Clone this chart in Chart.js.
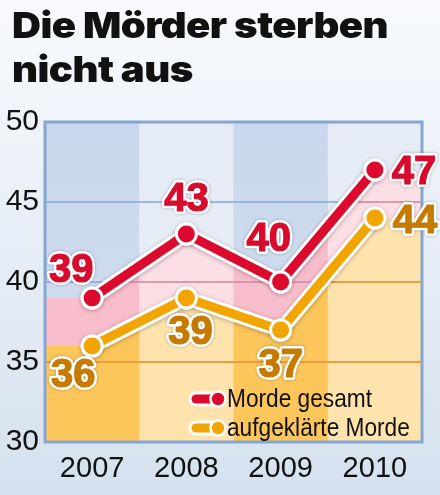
<!DOCTYPE html>
<html><head><meta charset="utf-8">
<script src="https://cdn.jsdelivr.net/npm/chart.js@4.4.0/dist/chart.umd.min.js"></script>
<style>
html,body{margin:0;padding:0;}
body{width:440px;height:495px;overflow:hidden;position:relative;
  background:linear-gradient(#f8fafd 0%, #eaf0f8 40%, #d5e1ef 100%);}
#c{position:absolute;left:0;top:0;}
.tl{position:absolute;left:12px;margin:0;font-family:Inter,'Liberation Sans',Arial,sans-serif;font-weight:900;
  font-size:36px;line-height:36px;color:#111;white-space:nowrap;transform-origin:0 0;letter-spacing:-0.5px;}
</style></head><body>
<canvas id="c" width="440" height="495"></canvas>
<div class="tl" id="t1" style="top:7px">Die Mörder sterben</div>
<div class="tl" id="t2" style="top:51px">nicht aus</div>
<script>
// ---- data ----
const categories = ['2007', '2008', '2009', '2010'];
const mordeGesamt = [39, 43, 40, 47];
const aufgeklaerteMorde = [36, 39, 37, 44];
const yTickValues = [30, 35, 40, 45, 50];
const seriesNames = ['Morde gesamt', 'aufgeklärte Morde'];

// title width fit
(function(){
  const t1 = document.getElementById('t1'), t2 = document.getElementById('t2');
  const w = t1.getBoundingClientRect().width;
  const s = 376 / w;
  t1.style.transform = 'scaleX(' + s + ')';
  t2.style.transform = 'scaleX(' + s + ')';
})();

const SANS = "'Liberation Sans',Arial,sans-serif";
const RED = '#dc0b2e', ORANGE = '#f2a400';
const LABEL_COLORS = ['#d80b2c', '#c57a00'];
const FILLS = ['#f8bdcb', '#fdc65b'];
const GRID_COLORS = ['#f08ea4', '#e8a11c'];

const decor = {
  id: 'decor',
  beforeDatasetsDraw(chart) {
    const ctx = chart.ctx, a = chart.chartArea, xs = chart.scales.x, ys = chart.scales.y;
    const step = xs.getPixelForValue(1) - xs.getPixelForValue(0);
    ctx.save();
    const g = ctx.createLinearGradient(0, a.top, 0, a.bottom);
    g.addColorStop(0, '#c8d7eb'); g.addColorStop(1, '#d3dff0');
    ctx.fillStyle = g;
    ctx.fillRect(a.left, a.top, a.right - a.left, a.bottom - a.top);
    const polys = [0, 1].map(i => {
      const pts = chart.getDatasetMeta(i).data;
      const p = new Path2D();
      p.moveTo(a.left, pts[0].y);
      pts.forEach(pt => p.lineTo(pt.x, pt.y));
      p.lineTo(a.right, pts[pts.length - 1].y);
      p.lineTo(a.right, a.bottom);
      p.lineTo(a.left, a.bottom);
      p.closePath();
      return p;
    });
    polys.forEach((p, i) => { ctx.fillStyle = FILLS[i]; ctx.fill(p); });
    ctx.fillStyle = 'rgba(255,255,255,0.5)';
    categories.forEach((c, i) => {
      if (i % 2 === 1) {
        const cx = xs.getPixelForValue(i);
        ctx.fillRect(cx - step / 2, a.top, step, a.bottom - a.top);
      }
    });
    const gl = ys.ticks.filter(t => t.value > ys.min && t.value < ys.max).map(t => ys.getPixelForValue(t.value));
    const drawGrid = (col) => {
      ctx.strokeStyle = col; ctx.lineWidth = 1.4;
      gl.forEach(yy => { ctx.beginPath(); ctx.moveTo(a.left, yy); ctx.lineTo(a.right, yy); ctx.stroke(); });
    };
    drawGrid('#86a7d1');
    polys.forEach((p, i) => { ctx.save(); ctx.clip(p); drawGrid(GRID_COLORS[i]); ctx.restore(); });
    ctx.strokeStyle = '#84a6d0'; ctx.lineWidth = 3;
    ctx.strokeRect(a.left, a.top, a.right - a.left, a.bottom - a.top);
    ctx.restore();
  },
  beforeDatasetDraw(chart, args) {
    const ctx = chart.ctx, pts = args.meta.data;
    ctx.save();
    ctx.shadowColor = 'rgba(0,0,0,0.28)'; ctx.shadowBlur = 4; ctx.shadowOffsetY = 1;
    ctx.strokeStyle = '#fff'; ctx.lineWidth = 15; ctx.lineJoin = 'round'; ctx.lineCap = 'round';
    ctx.beginPath();
    pts.forEach((p, i) => i ? ctx.lineTo(p.x, p.y) : ctx.moveTo(p.x, p.y));
    ctx.stroke();
    pts.forEach(p => { ctx.beginPath(); ctx.arc(p.x, p.y, 11.5, 0, Math.PI * 2); ctx.fillStyle = '#fff'; ctx.fill(); });
    ctx.restore();
  },
  afterDatasetsDraw(chart, args, opts) {
    const ctx = chart.ctx, a = chart.chartArea;
    ctx.save();
    ctx.font = "bold 40px " + SANS;
    ctx.textAlign = 'center'; ctx.textBaseline = 'middle'; ctx.lineJoin = 'round';
    chart.data.datasets.forEach((ds, i) => {
      const pts = chart.getDatasetMeta(i).data;
      pts.forEach((p, j) => {
        const off = opts.offsets[i][j];
        const tx = p.x + off[0], ty = p.y + off[1];
        const txt = String(ds.data[j]);
        ctx.save();
        ctx.shadowColor = 'rgba(0,0,0,0.3)'; ctx.shadowBlur = 3;
        ctx.strokeStyle = '#fff'; ctx.lineWidth = 6; ctx.strokeText(txt, tx, ty);
        ctx.restore();
        ctx.fillStyle = LABEL_COLORS[i]; ctx.fillText(txt, tx, ty);
        ctx.strokeStyle = LABEL_COLORS[i]; ctx.lineWidth = 1.2; ctx.strokeText(txt, tx, ty);
      });
    });
    ctx.font = '26px ' + SANS;
    const sx = 145 / ctx.measureText(chart.data.datasets[0].label).width;
    chart.data.datasets.forEach((ds, i) => {
      const yy = a.bottom - 43 + i * 29;
      const x0 = a.right - 226, x1 = a.right - 204;
      ctx.lineCap = 'round';
      ctx.strokeStyle = '#fff'; ctx.lineWidth = 15;
      ctx.beginPath(); ctx.moveTo(x0, yy); ctx.lineTo(x1, yy); ctx.stroke();
      ctx.strokeStyle = ds.borderColor; ctx.lineWidth = 9;
      ctx.beginPath(); ctx.moveTo(x0, yy); ctx.lineTo(x1, yy); ctx.stroke();
      ctx.beginPath(); ctx.arc(x1, yy, 7.5, 0, Math.PI * 2);
      ctx.fillStyle = ds.borderColor; ctx.fill(); ctx.strokeStyle = '#fff'; ctx.lineWidth = 2.5; ctx.stroke();
      ctx.save();
      ctx.translate(a.right - 195, yy + 1);
      ctx.scale(sx, 1);
      ctx.font = '26px ' + SANS; ctx.fillStyle = '#111'; ctx.textAlign = 'left'; ctx.textBaseline = 'middle';
      ctx.fillText(ds.label, 0, 0);
      ctx.restore();
    });
    ctx.restore();
  }
};

new Chart(document.getElementById('c'), {
  type: 'line',
  data: {
    labels: categories,
    datasets: [
      { label: seriesNames[0], data: mordeGesamt, borderColor: RED, backgroundColor: RED,
        borderWidth: 9, pointRadius: 10, pointBorderWidth: 3, pointBorderColor: '#fff',
        pointBackgroundColor: RED, fill: false, tension: 0 },
      { label: seriesNames[1], data: aufgeklaerteMorde, borderColor: ORANGE, backgroundColor: ORANGE,
        borderWidth: 9, pointRadius: 10, pointBorderWidth: 3, pointBorderColor: '#fff',
        pointBackgroundColor: ORANGE, fill: false, tension: 0 }
    ]
  },
  options: {
    responsive: false, animation: false, devicePixelRatio: 1,
    layout: { padding: { top: 122, right: 18, left: 0, bottom: 0 } },
    plugins: {
      legend: { display: false }, tooltip: { enabled: false },
      decor: { offsets: [[[-21, -27], [0, -34], [-12, -42], [39, 3]], [[-19, 30], [4, 35], [0, 36], [40, 4]]] }
    },
    scales: {
      x: { type: 'category', offset: true,
        grid: { display: false, drawTicks: false }, border: { display: false },
        ticks: { color: '#111', font: { family: SANS, size: 29 }, padding: 10 },
        afterFit: s => { s.height = 53; } },
      y: { min: 30, max: 50,
        afterBuildTicks: s => { s.ticks = yTickValues.map(v => ({ value: v })); },
        grid: { display: false, drawTicks: false }, border: { display: false },
        ticks: { color: '#111', font: { family: SANS, size: 30 }, padding: 6 },
        afterFit: s => { s.width = 45; } }
    }
  },
  plugins: [decor]
});
</script>
</body></html>
